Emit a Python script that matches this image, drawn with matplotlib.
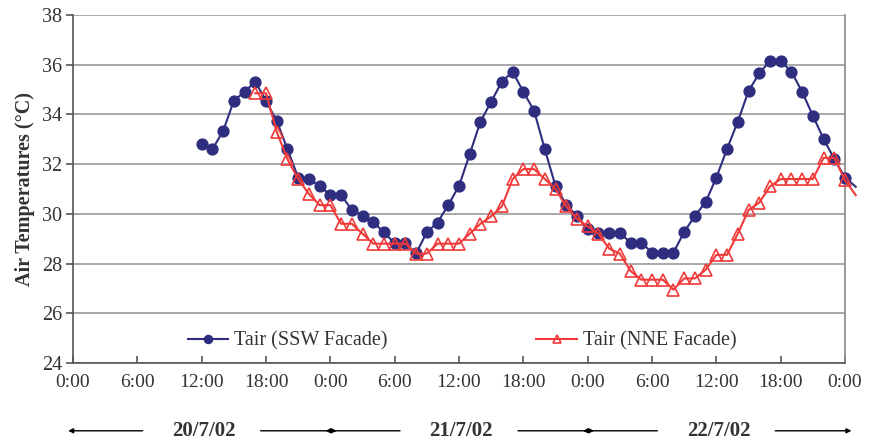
import matplotlib
matplotlib.use("Agg")
import matplotlib.pyplot as plt

plt.rcParams['font.family'] = ['Liberation Serif', 'DejaVu Serif']

# hours since 0:00 on 20/7/02
ssw_hours = list(range(12, 74))
ssw_temp = [32.8, 32.6, 33.33, 34.55, 34.91, 35.32, 34.54, 33.74, 32.6, 31.46,
            31.39, 31.12, 30.76, 30.76, 30.16, 29.93, 29.66, 29.26, 28.81, 28.81,
            28.41, 29.26, 29.65, 30.36, 31.12, 32.40, 33.71, 34.51, 35.32, 35.72,
            34.91, 34.15, 32.60, 31.12, 30.36, 29.92, 29.38, 29.24, 29.24, 29.24,
            28.84, 28.84, 28.44, 28.44, 28.44, 29.27, 29.92, 30.47, 31.46, 32.61,
            33.71, 34.94, 35.65, 36.15, 36.15, 35.72, 34.91, 33.95, 33.01, 32.21,
            31.46, 31.09]

nne_hours = list(range(17, 74))
nne_temp = [34.85, 34.85, 33.3, 32.2, 31.4, 30.8, 30.35, 30.35, 29.6, 29.6,
            29.2, 28.8, 28.8, 28.8, 28.8, 28.4, 28.4, 28.8, 28.8, 28.8,
            29.2, 29.6, 29.9, 30.3, 31.4, 31.8, 31.8, 31.4, 31.0, 30.3,
            29.8, 29.5, 29.2, 28.6, 28.4, 27.7, 27.35, 27.35, 27.35, 26.95,
            27.4, 27.4, 27.75, 28.35, 28.35, 29.2, 30.15, 30.45, 31.1, 31.4,
            31.4, 31.4, 31.4, 32.25, 32.25, 31.35, 30.75]

xtick_pos = list(range(0, 73, 6))
xtick_labels = ["0:00", "6:00", "12:00", "18:00"] * 3 + ["0:00"]
days = ["20/7/02", "21/7/02", "22/7/02"]

navy = "#2e2d7f"
red = "#f03a3a"

fig = plt.figure(figsize=(8.69, 4.41), dpi=100)
ax = fig.add_axes([0.084, 0.177, 0.8884, 0.789])

ax.plot(ssw_hours, ssw_temp, color=navy, lw=1.5, marker='o', ms=7.8,
        markevery=slice(0, len(ssw_hours) - 1), clip_on=False, zorder=3,
        label="Tair (SSW Facade)")
ax.plot(nne_hours, nne_temp, color=red, lw=1.5, marker='^', ms=8,
        mfc='none', mec=red, mew=1.2,
        markevery=slice(0, len(nne_hours) - 1), clip_on=False, zorder=4,
        label="Tair (NNE Facade)")

ax.set_xlim(0, 72)
ax.set_ylim(24, 38)
ax.set_yticks(range(24, 39, 2))
ax.set_xticks(xtick_pos)
ax.set_xticklabels(xtick_labels)
ax.yaxis.grid(True, color="#999999", lw=1.2)
ax.set_axisbelow(True)

for s in ["left", "bottom", "right"]:
    ax.spines[s].set_color("#555555")
    ax.spines[s].set_linewidth(1.2)
ax.spines["right"].set_color("#888888")
ax.spines["top"].set_visible(False)

ax.tick_params(axis='x', direction='in', length=5, width=1.2, color="#555555",
               labelsize=14, pad=8, labelcolor="#333333")
ax.tick_params(axis='y', direction='out', length=5, width=1.2, color="#555555",
               labelsize=14.5, pad=3, labelcolor="#333333")

ax.set_ylabel("Air Temperatures (\u00b0C)", fontsize=14.5, fontweight='bold',
              labelpad=5, color="#333333")

leg = ax.legend(loc='center left', bbox_to_anchor=(0.125, 0.063), ncol=2,
                frameon=False, fontsize=14.5, handlelength=2.0,
                handletextpad=0.3, columnspacing=7.4, markerscale=0.75)
for t in leg.get_texts():
    t.set_color("#333333")

# day labels with arrows below the axis
for i, d in enumerate(days):
    x0 = 24 * i
    ax.text(x0 + 12.2, -0.195, d, transform=ax.get_xaxis_transform(),
            ha='center', va='center', fontsize=15, fontweight='bold',
            color="#333333")
    ax.annotate("", xy=(x0 - 0.45, -0.195), xytext=(x0 + 6.5, -0.195),
                xycoords=ax.get_xaxis_transform(),
                arrowprops=dict(arrowstyle='-|>', color='black', lw=1,
                                mutation_scale=7, shrinkA=0, shrinkB=0),
                annotation_clip=False)
    ax.annotate("", xy=(x0 + 24.6, -0.195), xytext=(x0 + 17.5, -0.195),
                xycoords=ax.get_xaxis_transform(),
                arrowprops=dict(arrowstyle='-|>', color='black', lw=1,
                                mutation_scale=7, shrinkA=0, shrinkB=0),
                annotation_clip=False)

fig.savefig("out.png", dpi=100)
